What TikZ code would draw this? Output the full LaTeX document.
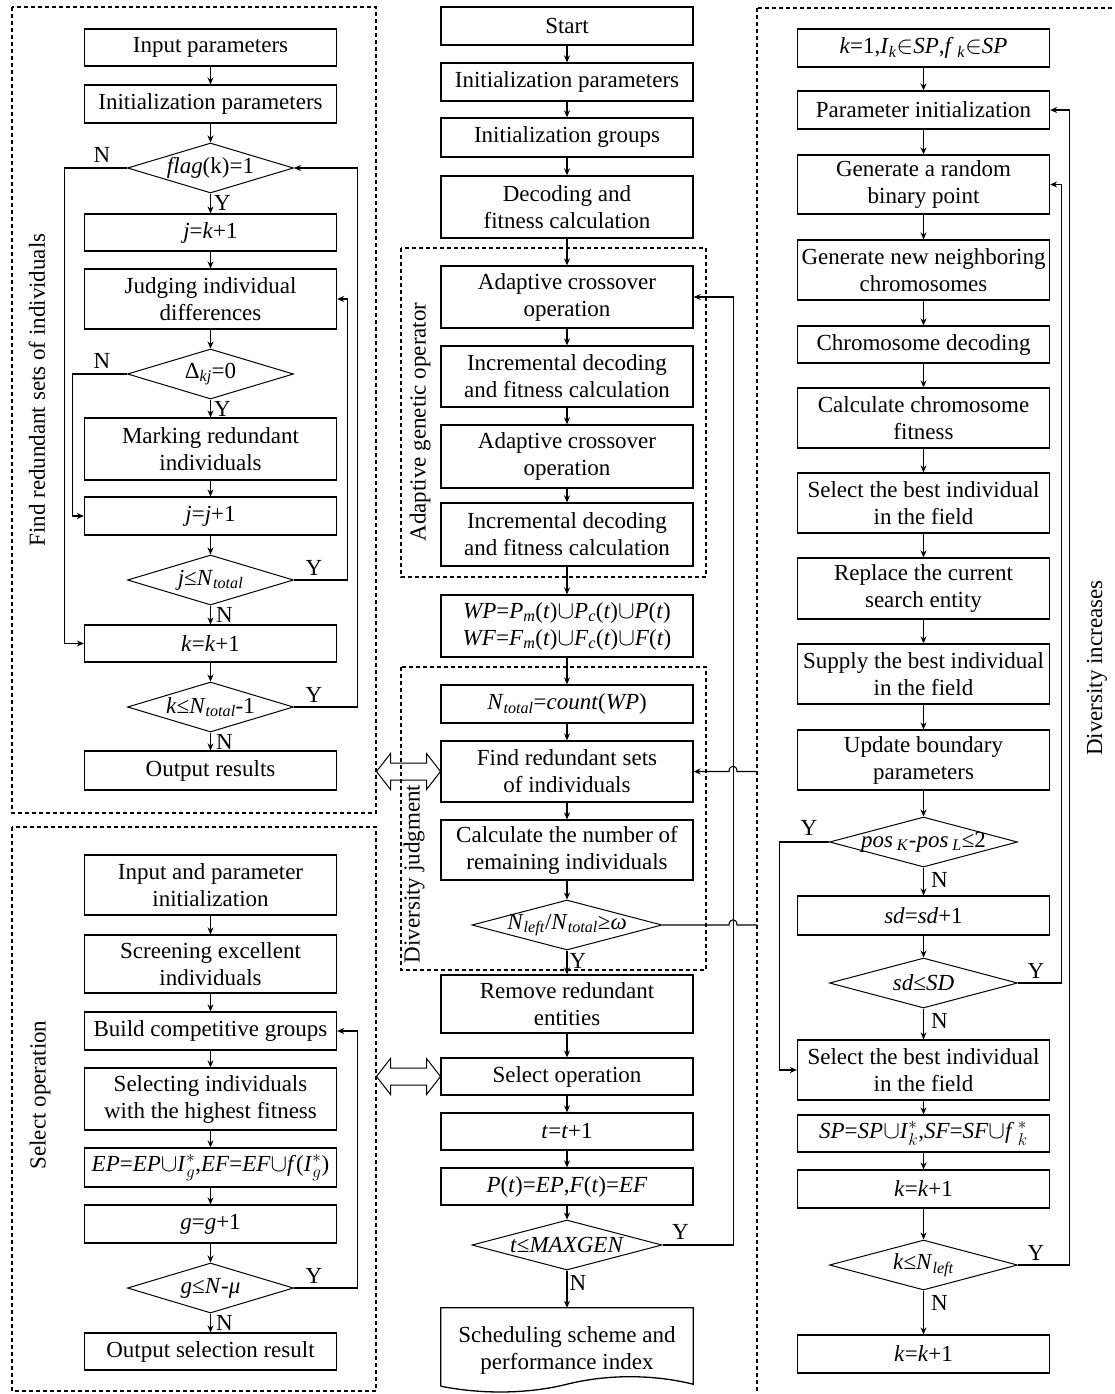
\documentclass[tikz,border=0pt]{standalone}
\usepackage{fontspec}
\usepackage{amsmath}
\setmainfont{Liberation Serif}
\usetikzlibrary{shapes.geometric,arrows.meta,calc}

\begin{document}
\begin{tikzpicture}[x=1pt,y=-1pt,
  every node/.style={font=\fontsize{23}{27}\selectfont},
  box/.style={draw,line width=1.3pt,minimum width=252,align=center,inner sep=1pt},
  dec/.style={draw,diamond,line width=1pt,minimum width=166,minimum height=50,inner sep=0pt},
  flow/.style={line width=1.1pt,-{Stealth[length=7pt,width=6pt]}},
  wire/.style={line width=1.1pt},
  grp/.style={line width=1.2pt,dash pattern=on 4pt off 3pt},
  yn/.style={inner sep=0pt},
  vlabel/.style={rotate=90,inner sep=0pt},
  hollow/.style={line width=1pt,line join=miter}
]
\useasboundingbox (0,0) rectangle (1114,1394);
\fill[white] (0,0) rectangle (1114,1394);

% ---------- group frames ----------
\draw[grp] (12,7) rectangle (376,813);
\draw[grp] (12,827) rectangle (376,1391);
\draw[grp] (757,8) rectangle (1124,1404);
\draw[grp] (401,248) rectangle (706,577);
\draw[grp] (401,667) rectangle (706,970);

% ---------- left: finding redundant sets ----------
\node[box,minimum height=37] (L1) at (210.5,47.5) {Input parameters};
\node[box,minimum height=38] (L2) at (210.5,104) {Initialization parameters};
\node[dec] (LD1) at (210.5,168) {\makebox[0pt]{\textit{flag}(k)=1}};
\node[box,minimum height=37] (L3) at (210.5,232.5) {\textit{j}=\textit{k}+1};
\node[box,minimum height=60] (L4) at (210.5,299) {Judging individual\\differences};
\node[dec] (LD2) at (210.5,374) {\makebox[0pt]{Δ\textsubscript{\textit{kj}}=0}};
\node[box,minimum height=62] (L5) at (210.5,449) {Marking redundant\\individuals};
\node[box,minimum height=38] (L6) at (210.5,516) {\textit{j}=\textit{j}+1};
\node[dec] (LD3) at (210.5,580) {\makebox[0pt]{\textit{j}≤\textit{N}\textsubscript{\textit{total}}}};
\node[box,minimum height=37] (L7) at (210.5,643.5) {\textit{k}=\textit{k}+1};
\node[dec] (LD4) at (210.5,707) {\makebox[0pt]{\textit{k}≤\textit{N}\textsubscript{\textit{total}}-1}};
\node[box,minimum height=39] (L8) at (210.5,770.5) {Output results};

\foreach \a/\b in {L1/L2,L2/LD1,LD1/L3,L3/L4,L4/LD2,LD2/L5,L5/L6,L6/LD3,LD3/L7,L7/LD4,LD4/L8}
  \draw[flow] (\a.south) -- (\b.north);

\draw[flow] (LD1.west) -- ++(-62.5,0) |- (L7.west);
\draw[flow] (LD2.west) -- ++(-54.5,0) |- (L6.west);
\draw[flow] (LD3.east) -- ++(53.5,0) |- (L4.east);
\draw[flow] (LD4.east) -- ++(63.5,0) |- (LD1.east);

\node[yn] (yLD1) at ($(LD1.south)+(12,9)$) {Y};
\node[yn] (nLD1) at ($(LD1.west)+(-25,-13)$) {N};
\node[yn] (yLD2) at ($(LD2.south)+(12,9)$) {Y};
\node[yn] (nLD2) at ($(LD2.west)+(-25,-13)$) {N};
\node[yn] (yLD3) at ($(LD3.east)+(20,-12)$) {Y};
\node[yn] (nLD3) at ($(LD3.south)+(14,9)$) {N};
\node[yn] (yLD4) at ($(LD4.east)+(20,-12)$) {Y};
\node[yn] (nLD4) at ($(LD4.south)+(14,9)$) {N};

\node[vlabel] (capA) at (37,390) {Find redundant sets of individuals};

% ---------- left: select operation ----------
\node[box,minimum height=60] (S1) at (210.5,885) {Input and parameter\\initialization};
\node[box,minimum height=58] (S2) at (210.5,964) {Screening excellent\\individuals};
\node[box,minimum height=38] (S3) at (210.5,1031) {Build competitive groups};
\node[box,minimum height=62] (S4) at (210.5,1099) {Selecting individuals\\with the highest fitness};
\node[box,minimum height=39] (S5) at (210.5,1167.5) {\textit{EP}=\textit{EP}$\cup$\textit{I}$^{*}_{g}$,\textit{EF}=\textit{EF}$\cup$\textit{f}(\textit{I}$^{*}_{g}$)};
\node[box,minimum height=38] (S6) at (210.5,1224) {\textit{g}=\textit{g}+1};
\node[dec] (SD1) at (210.5,1288) {\makebox[0pt]{\textit{g}≤\textit{N}-\textit{μ}}};
\node[box,minimum height=37] (S7) at (210.5,1351.5) {Output selection result};

\foreach \a/\b in {S1/S2,S2/S3,S3/S4,S4/S5,S5/S6,S6/SD1,SD1/S7}
  \draw[flow] (\a.south) -- (\b.north);
\draw[flow] (SD1.east) -- ++(63.5,0) |- (S3.east);
\node[yn] (ySD1) at ($(SD1.east)+(20,-12)$) {Y};
\node[yn] (nSD1) at ($(SD1.south)+(14,9)$) {N};

\node[vlabel] (capB) at (40,1095) {Select operation};

% ---------- middle: main procedure ----------
\node[box,minimum height=38] (M1) at (567,26) {Start};
\node[box,minimum height=38] (M2) at (567,82) {Initialization parameters};
\node[box,minimum height=39] (M3) at (567,137.5) {Initialization groups};
\node[box,minimum height=62] (M4) at (567,207) {Decoding and\\fitness calculation};
\node[box,minimum height=62] (M5) at (567,297) {Adaptive crossover\\operation};
\node[box,minimum height=61] (M6) at (567,376.5) {Incremental decoding\\and fitness calculation};
\node[box,minimum height=63] (M7) at (567,456.5) {Adaptive crossover\\operation};
\node[box,minimum height=63] (M8) at (567,534.5) {Incremental decoding\\and fitness calculation};
\node[box,minimum height=62] (M9) at (567,626) {\textit{WP}=\textit{P}\textsubscript{\textit{m}}(\textit{t})$\cup$\textit{P}\textsubscript{\textit{c}}(\textit{t})$\cup$\textit{P}(\textit{t})\\\textit{WF}=\textit{F}\textsubscript{\textit{m}}(\textit{t})$\cup$\textit{F}\textsubscript{\textit{c}}(\textit{t})$\cup$\textit{F}(\textit{t})};
\node[box,minimum height=38] (M10) at (567,704) {\textit{N}\textsubscript{\textit{total}}=\textit{count}(\textit{WP})};
\node[box,minimum height=61] (M11) at (567,771.5) {Find redundant sets\\of individuals};
\node[box,minimum height=60] (M12) at (567,850) {Calculate the number of\\remaining individuals};
\node[dec,minimum width=190] (MD1) at (567,925) {\makebox[0pt]{\textit{N}\textsubscript{\textit{left}}/\textit{N}\textsubscript{\textit{total}}≥\textit{ω}}};
\node[box,minimum height=58] (M13) at (567,1004) {Remove redundant\\entities};
\node[box,minimum height=37] (M14) at (567,1076.5) {Select operation};
\node[box,minimum height=37] (M15) at (567,1131.5) {\textit{t}=\textit{t}+1};
\node[box,minimum height=37] (M16) at (567,1186.5) {\textit{P}(\textit{t})=\textit{EP},\textit{F}(\textit{t})=\textit{EF}};
\node[dec,minimum width=190] (MD2) at (567,1245) {\makebox[0pt]{\textit{t}≤\textit{MAXGEN}}};
\node[align=center,minimum width=252,minimum height=84,inner sep=0pt] (M17) at (567,1350) {Scheduling scheme and\\performance index};
% document-style outline with a wavy lower edge
\draw[line width=1.3pt,line join=miter]
  ($(M17.south west)+(0,-6)$) -- (M17.north west) -- (M17.north east) -- ($(M17.south east)+(0,-8)$)
  .. controls ($(M17.south east)+(-40,-18)$) and ($(M17.south)+(40,-18)$) .. ($(M17.south)+(0,-8)$)
  .. controls ($(M17.south)+(-40,2)$) and ($(M17.south west)+(40,2)$) .. ($(M17.south west)+(0,-6)$);

\foreach \a/\b in {M1/M2,M2/M3,M3/M4,M4/M5,M5/M6,M6/M7,M7/M8,M8/M9,M9/M10,M10/M11,M11/M12,M12/MD1,MD1/M13,M13/M14,M14/M15,M15/M16,M16/MD2,MD2/M17}
  \draw[flow] (\a.south) -- (\b.north);

\draw[flow] (MD2.east) -- ++(71,0) |- (M5.east);
\node[yn] (yMD1) at ($(MD1.south)+(11,10)$) {Y};
\node[yn] (yMD2) at ($(MD2.east)+(18,-13)$) {Y};
\node[yn] (nMD2) at ($(MD2.south)+(11,12)$) {N};

% links to and from the diversity-increase procedure, hopping over the loop line
\coordinate (H1) at (733,771.5);
\coordinate (H2) at (733,925);
\coordinate (X1) at (757,771.5);
\coordinate (X2) at (757,925);
\draw[flow] (X1) -- ($(H1)+(4,0)$) .. controls ($(H1)+(4,-7)$) and ($(H1)+(-4,-7)$) .. ($(H1)+(-4,0)$) -- (M11.east);
\draw[wire] (MD1.east) -- ($(H2)+(-4,0)$) .. controls ($(H2)+(-4,-7)$) and ($(H2)+(4,-7)$) .. ($(H2)+(4,0)$) -- (X2);

\node[vlabel] (capC) at (420,422) {Adaptive genetic operator};
\node[vlabel] (capD) at (414,874) {Diversity judgment};

% hollow two-way arrows between the sub-procedures and the main flow
\coordinate (DA1) at (408.5,771.5);
\coordinate (DA2) at (408.5,1076.5);
\foreach \c in {DA1,DA2}
  \draw[hollow] (\c) ++(-32,0) -- ++(14,-18) -- ++(0,9.5) -- ++(36,0) -- ++(0,-9.5)
    -- ++(14,18) -- ++(-14,18) -- ++(0,-9.5) -- ++(-36,0) -- ++(0,9.5) -- cycle;

% ---------- right: diversity increase ----------
\node[box,minimum height=38] (R1) at (923.5,48) {\textit{k}=1,\textit{I}\textsubscript{\textit{k}}$\in$\textit{SP},\textit{f}\,\textsubscript{\textit{k}}$\in$\textit{SP}};
\node[box,minimum height=38] (R2) at (923.5,110) {Parameter initialization};
\node[box,minimum height=59] (R3) at (923.5,184.5) {Generate a random\\binary point};
\node[box,minimum height=60] (R4) at (923.5,270) {Generate new neighboring\\chromosomes};
\node[box,minimum height=37] (R5) at (923.5,344.5) {Chromosome decoding};
\node[box,minimum height=60] (R6) at (923.5,418) {Calculate chromosome\\fitness};
\node[box,minimum height=60] (R7) at (923.5,503) {Select the best individual\\in the field};
\node[box,minimum height=61] (R8) at (923.5,588.5) {Replace the current\\search entity};
\node[box,minimum height=60] (R9) at (923.5,674) {Supply the best individual\\in the field};
\node[box,minimum height=60] (R10) at (923.5,760) {Update boundary\\parameters};
\node[dec,minimum width=188] (RD1) at (923.5,842) {\makebox[0pt]{\textit{pos}\,\textsubscript{\textit{K}}-\textit{pos}\,\textsubscript{\textit{L}}≤2}};
\node[box,minimum height=39] (R11) at (923.5,915.5) {\textit{sd}=\textit{sd}+1};
\node[dec,minimum width=188] (RD2) at (923.5,983) {\makebox[0pt]{\textit{sd}≤\textit{SD}}};
\node[box,minimum height=60] (R12) at (923.5,1070) {Select the best individual\\in the field};
\node[box,minimum height=37] (R13) at (923.5,1133.5) {\textit{SP}=\textit{SP}$\cup$\textit{I}$^{*}_{k}$,\textit{SF}=\textit{SF}$\cup$\textit{f}\,$^{*}_{k}$};
\node[box,minimum height=38] (R14) at (923.5,1189) {\textit{k}=\textit{k}+1};
\node[dec,minimum width=188] (RD3) at (923.5,1265) {\makebox[0pt]{\textit{k}≤\textit{N}\textsubscript{\textit{left}}}};
\node[box,minimum height=38] (R15) at (923.5,1354) {\textit{k}=\textit{k}+1};

\foreach \a/\b in {R1/R2,R2/R3,R3/R4,R4/R5,R5/R6,R6/R7,R7/R8,R8/R9,R9/R10,R10/RD1,RD1/R11,R11/RD2,RD2/R12,R12/R13,R13/R14,R14/RD3,RD3/R15}
  \draw[flow] (\a.south) -- (\b.north);

\draw[flow] (RD1.west) -- ++(-49.5,0) |- (R12.west);
\draw[flow] (RD2.east) -- ++(43.5,0) |- (R3.east);
\draw[flow] (RD3.east) -- ++(51.5,0) |- (R2.east);

\node[yn] (yRD1) at ($(RD1.west)+(-20,-14)$) {Y};
\node[yn] (nRD1) at ($(RD1.south)+(16,12)$) {N};
\node[yn] (yRD2) at ($(RD2.east)+(18,-12)$) {Y};
\node[yn] (nRD2) at ($(RD2.south)+(16,12)$) {N};
\node[yn] (yRD3) at ($(RD3.east)+(18,-12)$) {Y};
\node[yn] (nRD3) at ($(RD3.south)+(16,12)$) {N};

\node[vlabel] (capE) at (1097,668) {Diversity increases};
\end{tikzpicture}
\end{document}
